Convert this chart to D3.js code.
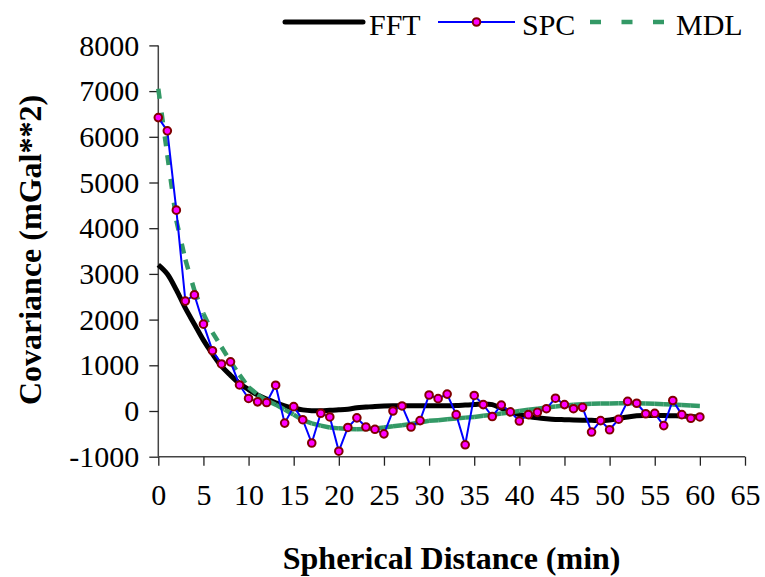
<!DOCTYPE html>
<html>
<head>
<meta charset="utf-8">
<script src="https://cdn.jsdelivr.net/npm/d3@7/dist/d3.min.js"></script>
<style>
  html, body { margin: 0; padding: 0; background: #fff; }
  svg { display: block; }
  text { font-family: "Liberation Serif", "Times New Roman", serif; fill: #000; }
</style>
</head>
<body>
<svg id="chart" width="765" height="577"></svg>
<script>
// ---- data ----
const distances = [0,1,2,3,4,5,6,7,8,9,10,11,12,13,14,15,16,17,18,19,20,21,22,23,24,25,26,27,28,29,30,
  31,32,33,34,35,36,37,38,39,40,41,42,43,44,45,46,47,48,49,50,51,52,53,54,55,56,57,58,59,60];
const spcValues = [6420,6130,4395,2405,2540,1900,1320,1030,1075,570,275,200,185,565,-265,95,
  -190,-700,-50,-130,-880,-360,-150,-350,-400,-500,0,110,-350,-210,350,270,370,-80,-740,340,
  140,-120,130,-20,-220,-80,-30,50,280,140,50,80,-460,-210,-410,-180,210,170,-60,-50,-320,230,
  -80,-160,-130];
const fftValues = [3200,3000,2650,2250,1900,1550,1250,980,780,600,470,350,260,180,110,60,
  25,5,5,15,25,40,70,85,100,110,115,115,115,115,115,115,115,120,130,140,155,140,60,-20,-80,
  -120,-150,-170,-185,-190,-195,-200,-205,-210,-195,-165,-130,-105,-100,-100,-100,-105,-110,-120,-135];
const mdlValues = [7050,5600,4170,3310,2640,2130,1720,1400,1080,790,520,360,230,140,30,-80,
  -200,-270,-320,-360,-380,-395,-400,-395,-380,-360,-335,-310,-285,-250,-215,-200,-180,-165,
  -145,-130,-105,-80,-55,-30,0,25,50,75,100,120,135,150,160,163,166,168,170,168,165,160,150,
  140,130,118,110];
const xTicks = [0,5,10,15,20,25,30,35,40,45,50,55,60,65];
const yTicks = [-1000,0,1000,2000,3000,4000,5000,6000,7000,8000];
const seriesNames = ["FFT", "SPC", "MDL"];
const xTitle = "Spherical Distance (min)";
const yTitle = "Covariance (mGal**2)";

// ---- layout ----
const svg = d3.select("#chart");
const plotLeft = 158.3, plotRight = 745, plotTop = 45.4, plotBottom = 456.7;
const x = d3.scaleLinear().domain([0, 65]).range([plotLeft, plotRight]);
const y = d3.scaleLinear().domain([-1000, 8000]).range([plotBottom, plotTop]);
const font = '"Liberation Serif", "Times New Roman", serif';

// axes (plain hyphen for negatives, as in the original)
const fmt = d => String(d);
const xAxis = d3.axisBottom(x).tickValues(xTicks).tickSize(9).tickPadding(8).tickFormat(fmt);
const yAxis = d3.axisLeft(y).tickValues(yTicks).tickSize(9).tickPadding(12).tickFormat(fmt);

const gx = svg.append("g").attr("transform", `translate(0,${plotBottom})`).call(xAxis);
const gy = svg.append("g").attr("transform", `translate(${plotLeft},0)`).call(yAxis);
[gx, gy].forEach(g => {
  g.select(".domain").attr("stroke", "#444").attr("stroke-width", 1.5);
  g.selectAll(".tick line").attr("stroke", "#222").attr("stroke-width", 1.3);
  g.selectAll(".tick text").style("font-family", font).style("font-size", "30px").attr("fill", "#000");
});
gx.select(".domain").attr("d", `M${plotLeft},0H${plotRight}`);
gy.select(".domain").attr("d", `M0,${plotTop}V${plotBottom}`);
gx.selectAll(".tick text").attr("dy", "0.71em").attr("y", 27);
gy.selectAll(".tick text").attr("x", -19);

// titles
svg.append("text").attr("x", (plotLeft + plotRight) / 2).attr("y", 569)
  .attr("text-anchor", "middle").style("font-size", "32px").style("font-weight", "bold")
  .text(xTitle);
svg.append("text").attr("transform", `translate(41,250) rotate(-90)`)
  .attr("text-anchor", "middle").style("font-size", "32px").style("font-weight", "bold")
  .text(yTitle);

// series
const pts = vals => distances.map((d, i) => [d, vals[i]]);
const line = d3.line().x(d => x(d[0])).y(d => y(d[1]));
const plot = svg.append("g");

// FFT
plot.append("path").datum(pts(fftValues)).attr("d", d3.line().curve(d3.curveCatmullRom).x(d => x(d[0])).y(d => y(d[1])))
  .attr("fill", "none").attr("stroke", "#000").attr("stroke-width", 5).attr("stroke-linejoin", "round");

// MDL: dashed, pattern restarts on each segment (as in the original)
const mdlPts = pts(mdlValues);
plot.append("g").selectAll("path").data(d3.pairs(mdlPts)).join("path")
  .attr("d", p => line(p))
  .attr("fill", "none").attr("stroke", "#339966").attr("stroke-width", 4.5)
  .attr("stroke-dasharray", "10,14");

// SPC
plot.append("path").datum(pts(spcValues)).attr("d", line)
  .attr("fill", "none").attr("stroke", "#0000ff").attr("stroke-width", 2);
plot.append("g").selectAll("circle").data(pts(spcValues)).join("circle")
  .attr("cx", d => x(d[0])).attr("cy", d => y(d[1])).attr("r", 3.8)
  .attr("fill", "#ff00ff").attr("stroke", "#800000").attr("stroke-width", 2);

// legend
const lg = svg.append("g");
const ly = 22;
lg.append("line").attr("x1", 285).attr("x2", 363).attr("y1", ly).attr("y2", ly)
  .attr("stroke", "#000").attr("stroke-width", 5).attr("stroke-linecap", "round");
lg.append("text").attr("x", 369).attr("y", 35).style("font-size", "30px").text(seriesNames[0]);
lg.append("line").attr("x1", 438).attr("x2", 515).attr("y1", ly).attr("y2", ly)
  .attr("stroke", "#0000ff").attr("stroke-width", 2);
lg.append("circle").attr("cx", 476.5).attr("cy", ly).attr("r", 3.8)
  .attr("fill", "#ff00ff").attr("stroke", "#800000").attr("stroke-width", 2);
lg.append("text").attr("x", 522).attr("y", 35).style("font-size", "30px").text(seriesNames[1]);
lg.append("line").attr("x1", 590).attr("x2", 664).attr("y1", ly).attr("y2", ly)
  .attr("stroke", "#339966").attr("stroke-width", 4.5).attr("stroke-dasharray", "11,20.5");
lg.append("text").attr("x", 676).attr("y", 35).style("font-size", "30px").text(seriesNames[2]);
</script>
</body>
</html>
